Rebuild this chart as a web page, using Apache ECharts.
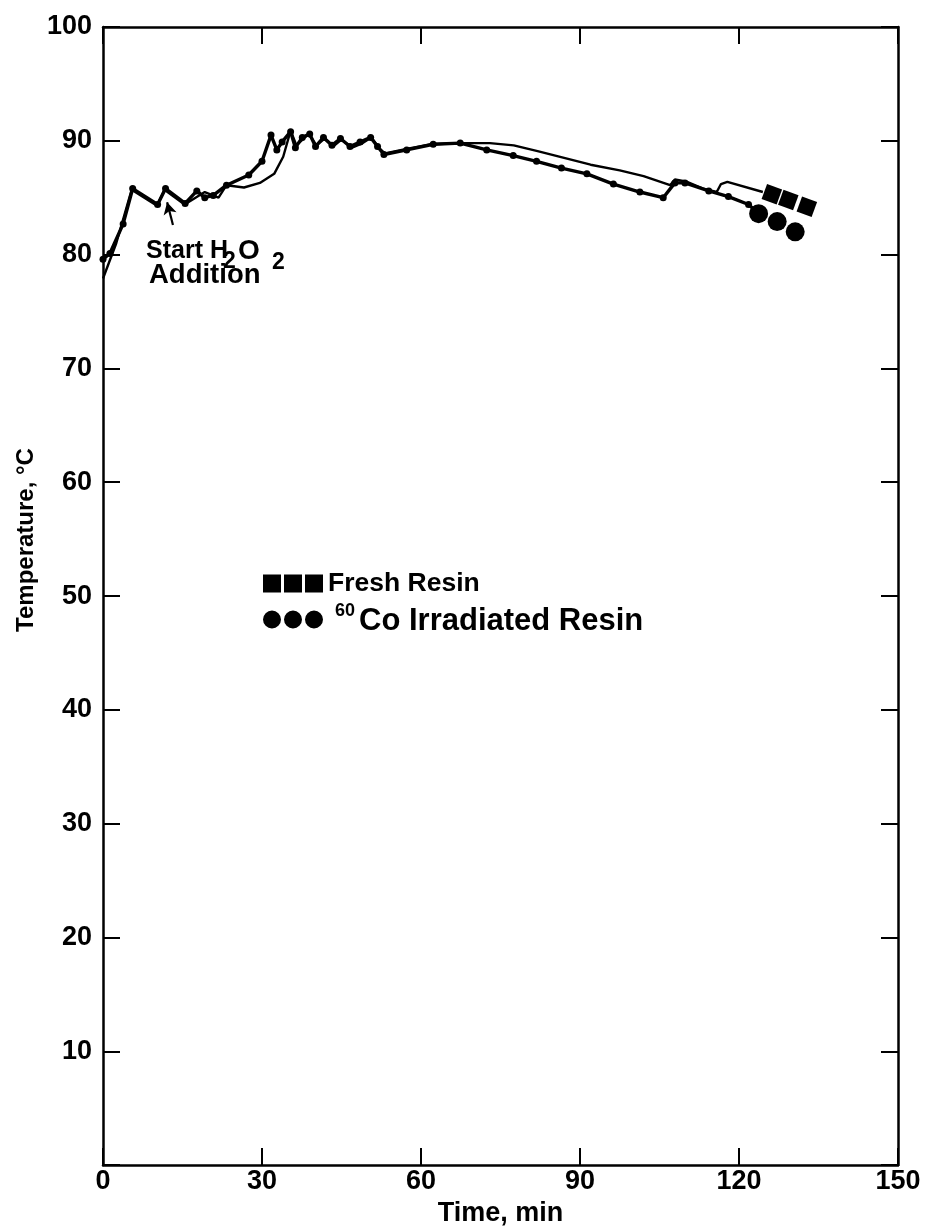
<!DOCTYPE html>
<html>
<head>
<meta charset="utf-8">
<script src="https://cdn.jsdelivr.net/npm/echarts@6/dist/echarts.min.js"></script>
<style>
  html, body { margin: 0; padding: 0; background: #ffffff; }
  #chart { width: 929px; height: 1232px; }
</style>
</head>
<body>
<div id="chart"></div>
<script>
// Axis ticks
const xTicks = [0, 30, 60, 90, 120, 150];
const yTicks = [0, 10, 20, 30, 40, 50, 60, 70, 80, 90, 100];

// Fresh resin run: time (min) and temperature (°C)
const freshTime = [0, 2.5, 5.4, 10.2, 11.6, 15.4, 19.2, 21.8, 23.3, 26.6, 29.6, 32.3, 34.0, 35.4,
  36.5, 38.8, 40.3, 41.8, 43.4, 45.0, 47.0, 49.0, 50.6, 52.2, 53.2, 57.5, 62.0, 68.0, 73.0,
  77.5, 82.0, 87.0, 92.0, 97.5, 102.0, 107.0, 107.9, 110.2, 113.2, 115.8, 116.6, 117.8, 124.5];
const freshTemp = [77.9, 81.0, 85.7, 84.3, 85.7, 84.4, 85.5, 85.0, 86.1, 85.9, 86.3, 87.1, 88.6, 90.9,
  89.6, 90.6, 89.6, 90.2, 89.5, 90.1, 89.4, 89.8, 90.3, 89.3, 88.9, 89.3, 89.7, 89.8, 89.8,
  89.6, 89.1, 88.5, 87.9, 87.4, 86.9, 86.1, 86.6, 86.4, 85.8, 85.5, 86.2, 86.4, 85.5];

// 60Co irradiated resin run
const irrTime = [0, 1.3, 3.8, 5.6, 10.3, 11.8, 15.5, 17.7, 19.2, 20.8, 23.3, 27.5, 30.0, 31.7,
  32.8, 33.8, 35.4, 36.3, 37.6, 39.0, 40.1, 41.6, 43.2, 44.8, 46.6, 48.5, 50.5, 51.8, 53.0,
  57.3, 62.3, 67.4, 72.4, 77.4, 81.8, 86.5, 91.3, 96.3, 101.3, 105.7, 107.9, 109.8, 114.3,
  118.0, 121.8, 123.7];
const irrTemp = [79.6, 80.1, 82.7, 85.8, 84.4, 85.8, 84.5, 85.6, 85.0, 85.2, 86.1, 87.0, 88.2, 90.5,
  89.2, 89.9, 90.8, 89.4, 90.3, 90.6, 89.5, 90.3, 89.6, 90.2, 89.5, 89.9, 90.3, 89.5, 88.8,
  89.2, 89.7, 89.8, 89.2, 88.7, 88.2, 87.6, 87.1, 86.2, 85.5, 85.0, 86.3, 86.3, 85.6,
  85.1, 84.4, 83.6];

// End-of-run symbols
const freshEndTime = [126.2, 129.3, 132.8];
const freshEndTemp = [85.3, 84.8, 84.2];
const irrEndTime = [123.7, 127.2, 130.6];
const irrEndTemp = [83.6, 82.9, 82.0];

// Arrow pointing at the start of peroxide addition
const arrowFrom = [13.2, 82.6];
const arrowTo = [12.1, 84.6];

const freshName = 'Fresh Resin';
const irrName = '60Co Irradiated Resin';

const pairs = (xs, ys) => xs.map((x, i) => [x, ys[i]]);

const INK = '#000000';
const FONT = '"Liberation Sans", Arial, Helvetica, sans-serif';

const squaresIcon = 'path://M0,0H18V18H0Z M21,0H39V18H21Z M42,0H60V18H42Z';
const circlesIcon = 'path://M0,9A9,9 0 1 1 18,9A9,9 0 1 1 0,9Z M21,9A9,9 0 1 1 39,9A9,9 0 1 1 21,9Z M42,9A9,9 0 1 1 60,9A9,9 0 1 1 42,9Z';

const chart = echarts.init(document.getElementById('chart'), null, { renderer: 'canvas' });

const baseX = {
  type: 'value', min: xTicks[0], max: xTicks[xTicks.length - 1], interval: 30,
  axisLine: { show: true, onZero: false, lineStyle: { color: INK, width: 2.5 } },
  axisTick: { show: true, inside: true, length: 17, lineStyle: { color: INK, width: 2 } },
  splitLine: { show: false }
};
const baseY = {
  type: 'value', min: yTicks[0], max: yTicks[yTicks.length - 1], interval: 10,
  axisLine: { show: true, onZero: false, lineStyle: { color: INK, width: 2.5 } },
  axisTick: { show: true, inside: true, length: 17, lineStyle: { color: INK, width: 2 } },
  splitLine: { show: false }
};

chart.setOption({
  backgroundColor: '#ffffff',
  animation: false,
  grid: { left: 103, right: 31, top: 27, bottom: 65 },
  xAxis: [
    Object.assign({}, baseX, {
      position: 'bottom',
      name: 'Time, min', nameLocation: 'middle', nameGap: 33,
      nameTextStyle: { color: INK, fontFamily: FONT, fontWeight: 'bold', fontSize: 27 },
      axisLabel: { show: true, margin: 3, color: INK, fontFamily: FONT, fontWeight: 'bold', fontSize: 27 }
    }),
    Object.assign({}, baseX, { position: 'top', axisLabel: { show: false } })
  ],
  yAxis: [
    Object.assign({}, baseY, {
      position: 'left',
      axisLabel: {
        show: true, margin: 11, color: INK, fontFamily: FONT, fontWeight: 'bold', fontSize: 27,
        formatter: v => (v === 0 ? '' : String(v))
      }
    }),
    Object.assign({}, baseY, { position: 'right', axisLabel: { show: false } })
  ],
  legend: [
    {
      data: [freshName], left: 258, top: 565, orient: 'vertical',
      itemWidth: 60, itemHeight: 18, icon: squaresIcon,
      formatter: () => '{t|Fresh Resin}',
      textStyle: {
        color: INK, fontFamily: FONT, fontWeight: 'bold',
        rich: { t: { fontSize: 26.5, fontWeight: 'bold', fontFamily: FONT, color: INK, padding: [0, 0, 0, 0] } }
      },
      selectedMode: false
    },
    {
      data: [irrName], left: 258, top: 597, orient: 'vertical',
      itemWidth: 60, itemHeight: 18, icon: circlesIcon,
      formatter: () => '{s|60}{t|Co Irradiated Resin}',
      textStyle: {
        color: INK, fontFamily: FONT, fontWeight: 'bold',
        rich: {
          s: { fontSize: 18, fontWeight: 'bold', fontFamily: FONT, color: INK, verticalAlign: 'bottom', padding: [0, 4, 17, 7] },
          t: { fontSize: 31, fontWeight: 'bold', fontFamily: FONT, color: INK, verticalAlign: 'bottom' }
        }
      },
      selectedMode: false
    }
  ],
  series: [
    {
      name: 'fresh-line', type: 'line', xAxisIndex: 0, yAxisIndex: 0,
      data: pairs(freshTime, freshTemp),
      showSymbol: false, symbol: 'none',
      lineStyle: { color: INK, width: 2.4 },
      z: 3,
      markLine: {
        silent: true, animation: false,
        symbol: ['none', 'arrow'], symbolSize: [10, 12],
        lineStyle: { color: INK, width: 2.2, type: 'solid' },
        label: { show: false },
        data: [[{ coord: arrowFrom }, { coord: arrowTo }]]
      }
    },
    {
      name: 'irr-line', type: 'line', xAxisIndex: 0, yAxisIndex: 0,
      data: pairs(irrTime, irrTemp),
      showSymbol: true, symbol: 'circle', symbolSize: 7,
      itemStyle: { color: INK, opacity: 1 },
      lineStyle: { color: INK, width: 3.4 },
      z: 4
    },
    {
      name: freshName, type: 'scatter', xAxisIndex: 0, yAxisIndex: 0,
      data: pairs(freshEndTime, freshEndTemp),
      symbol: 'rect', symbolSize: 16, symbolRotate: -20,
      itemStyle: { color: INK, opacity: 1 },
      z: 5
    },
    {
      name: irrName, type: 'scatter', xAxisIndex: 0, yAxisIndex: 0,
      data: pairs(irrEndTime, irrEndTemp),
      symbol: 'circle', symbolSize: 19,
      itemStyle: { color: INK, opacity: 1 },
      z: 5
    }
  ],
  graphic: [
    // Y-axis title
    {
      type: 'text', x: 26, y: 540, rotation: Math.PI / 2,
      style: { text: 'Temperature, °C', font: 'bold 24px ' + FONT, fill: INK, align: 'center', verticalAlign: 'middle' }
    },
    // Annotation: Start H2O2 Addition
    { type: 'text', left: 146, top: 239, style: { text: 'Start H', font: 'bold 25px ' + FONT, fill: INK } },
    { type: 'text', left: 223, top: 250, style: { text: '2', font: 'bold 23px ' + FONT, fill: INK } },
    { type: 'text', left: 238, top: 237, style: { text: 'O', font: 'bold 28px ' + FONT, fill: INK } },
    { type: 'text', left: 272, top: 251, style: { text: '2', font: 'bold 23px ' + FONT, fill: INK } },
    { type: 'text', left: 149, top: 261, style: { text: 'Addition', font: 'bold 27.5px ' + FONT, fill: INK } }
  ]
});
</script>
</body>
</html>
